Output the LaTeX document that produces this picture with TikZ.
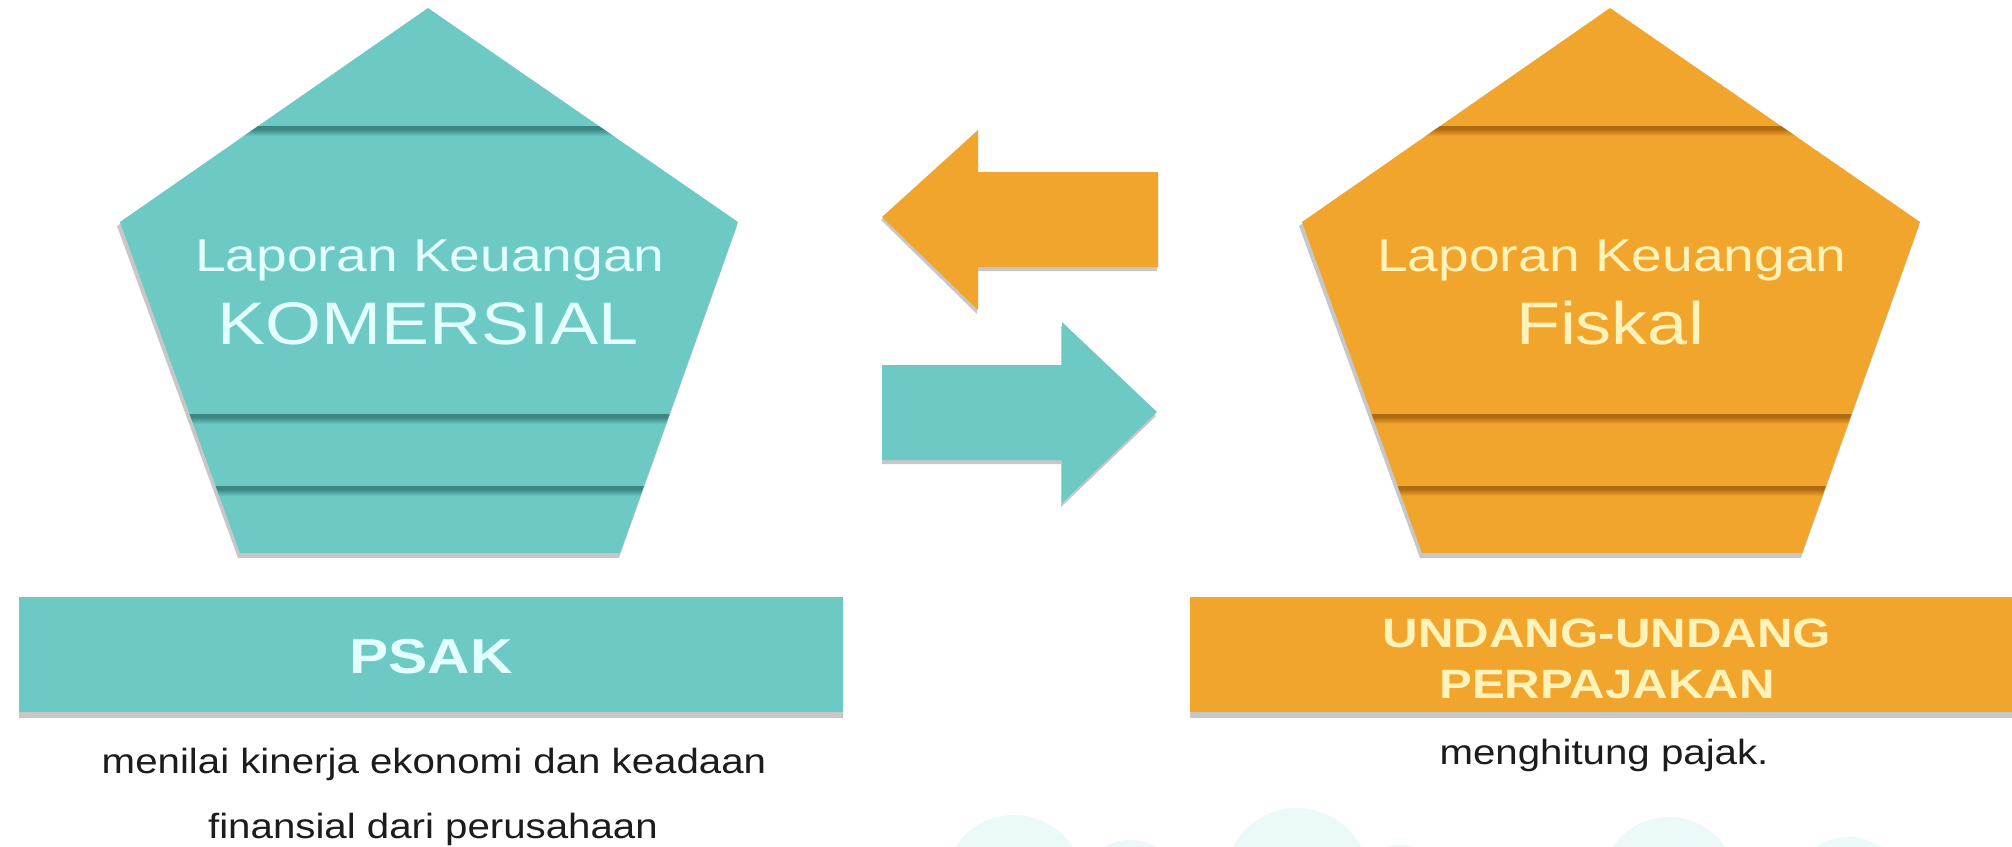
\documentclass[tikz,border=0pt]{standalone}
\usepackage{fontspec}
\setmainfont{Liberation Sans}
\usetikzlibrary{calc}
\definecolor{tealA}{RGB}{108,201,196}
\definecolor{tealD}{RGB}{58,135,130}
\definecolor{orngA}{RGB}{242,165,44}
\definecolor{orngD}{RGB}{176,108,18}
\definecolor{tealT}{RGB}{228,255,255}
\definecolor{orngT}{RGB}{255,243,185}
\definecolor{cloudC}{RGB}{236,249,249}
\definecolor{bodyT}{RGB}{28,28,28}
\tikzset{
  shadowfill/.style={fill=black, opacity=0.22},
  titletext/.style={inner sep=0, anchor=base},
  bodytext/.style={inner sep=0, anchor=base, text=bodyT, font=\fontsize{35}{40}\selectfont},
}
\newcommand\sx[1]{\scalebox{1.2}[1]{#1}}
\newcommand\sxb[1]{\scalebox{1.15}[1]{#1}}
\begin{document}
\begin{tikzpicture}[x=1pt,y=-1pt]
\useasboundingbox (0,0) rectangle (2012,846);
\fill[white] (0,0) rectangle (2012,846);
% faint clouds at the bottom
\foreach \cx/\cy/\r in {1014/885/70, 1130/895/55, 1297/880/72, 1400/905/60, 1669/885/68, 1780/900/50, 1849/895/58}
  \fill[cloudC] (\cx,\cy) circle[radius=\r];

% pentagons
\foreach \dx/\fc/\dc in {0/tealA/tealD, 1182/orngA/orngD}{
  \begin{scope}[xshift=\dx pt]
    \coordinate (ap) at (428,8);
    \coordinate (rv) at (738,222);
    \coordinate (br) at (620,553);
    \coordinate (bl) at (240,553);
    \coordinate (lv) at (120,222);
    \fill[shadowfill] ($(ap)+(-2,4)$) -- ($(rv)+(-1,4)$) -- ($(br)+(-1,5)$) -- ($(bl)+(-2,5)$) -- ($(lv)+(-3,4)$) -- cycle;
    \fill[\fc] (ap) -- (rv) -- (br) -- (bl) -- (lv) -- cycle;
    \begin{scope}
      \clip (ap) -- (rv) -- (br) -- (bl) -- (lv) -- cycle;
      \foreach \yy in {126,414,486}{
        \fill[\dc] (100,\yy) rectangle (760,\yy+3);
        \shade[top color=\dc, bottom color=\fc] (100,\yy+3) rectangle (760,\yy+10);
      }
    \end{scope}
  \end{scope}
}

% titles in pentagons
\node[titletext, text=tealT, font=\fontsize{46}{50}\selectfont] (lk1) at (430,271) {\sx{Laporan Keuangan}};
\node[titletext, text=tealT, font=\fontsize{60}{65}\selectfont] (kom) at (428,344) {\sx{KOMERSIAL}};
\node[titletext, text=orngT, font=\fontsize{46}{50}\selectfont] (lk2) at (1612,271) {\sx{Laporan Keuangan}};
\node[titletext, text=orngT, font=\fontsize{60}{65}\selectfont] (fis) at (1610,344) {\sx{Fiskal}};

% block arrows
\fill[shadowfill] (881,220) -- (977,134) -- (977,176) -- (1157,176) -- (1157,271) -- (977,271) -- (977,314) -- cycle;
\fill[orngA] (882,217) -- (978,130) -- (978,172) -- (1158,172) -- (1158,267) -- (978,267) -- (978,310) -- cycle;
\fill[shadowfill] (882,369) -- (1061,369) -- (1061,326) -- (1156,416) -- (1061,507) -- (1061,464) -- (882,464) -- cycle;
\fill[tealA] (882,365) -- (1062,365) -- (1062,322) -- (1157,412) -- (1062,503) -- (1062,460) -- (882,460) -- cycle;

% base boxes
\fill[shadowfill] (19,600) rectangle (843,718);
\fill[tealA] (19,597) rectangle (843,712);
\fill[shadowfill] (1190,600) rectangle (2012,718);
\fill[orngA] (1190,597) rectangle (2012,712);

\node[titletext, text=tealT, font=\bfseries\fontsize{49}{54}\selectfont] (psak) at (431,673) {\sx{PSAK}};
\node[titletext, text=orngT, font=\bfseries\fontsize{41}{46}\selectfont] (uu) at (1607,647) {\sx{UNDANG-UNDANG}};
\node[titletext, text=orngT, font=\bfseries\fontsize{41}{46}\selectfont] (pp) at (1607,698) {\sx{PERPAJAKAN}};

% descriptions
\node[bodytext] (d1) at (434,773) {\sxb{menilai kinerja ekonomi dan keadaan}};
\node[bodytext] (d2) at (433,838) {\sxb{finansial dari perusahaan}};
\node[bodytext] (d3) at (1604,764) {\sxb{menghitung pajak.}};
\end{tikzpicture}
\end{document}
